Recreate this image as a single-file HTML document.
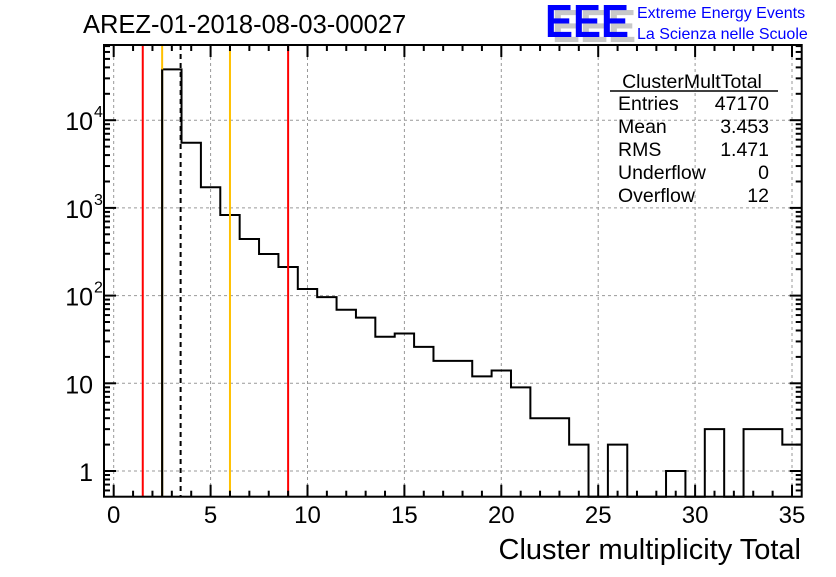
<!DOCTYPE html>
<html><head><meta charset="utf-8"><style>
body{margin:0;background:#fff;}
svg text{font-family:"Liberation Sans",sans-serif;}
</style></head><body>
<svg id="c" width="836" height="572" xmlns="http://www.w3.org/2000/svg">
<rect width="836" height="572" fill="#fff"/>
<text x="83" y="33" font-size="25.5">AREZ-01-2018-08-03-00027</text>
<g>
<text x="552" y="42" font-size="46" font-weight="bold" fill="#c8c8c8" textLength="84" lengthAdjust="spacingAndGlyphs">EEE</text>
<text x="545" y="37" font-size="46" font-weight="bold" fill="#0000ff" textLength="84" lengthAdjust="spacingAndGlyphs">EEE</text>
<text x="637" y="18" font-size="16" fill="#0000ff">Extreme Energy Events</text>
<text x="637" y="39" font-size="16" fill="#0000ff">La Scienza nelle Scuole</text>
</g>
<g id="grid"></g>
<g id="marks"></g>
<g id="axes"></g>
<g font-size="19.5">
<text x="692" y="88" text-anchor="middle">ClusterMultTotal</text>
<line x1="610" y1="91" x2="778" y2="91" stroke="#000" stroke-width="1.5"/>
<text x="618" y="110">Entries</text><text x="769" y="110" text-anchor="end">47170</text>
<text x="618" y="133">Mean</text><text x="769" y="133" text-anchor="end">3.453</text>
<text x="618" y="156">RMS</text><text x="769" y="156" text-anchor="end">1.471</text>
<text x="618" y="179">Underflow</text><text x="769" y="179" text-anchor="end">0</text>
<text x="618" y="202">Overflow</text><text x="769" y="202" text-anchor="end">12</text>
</g>
<text x="801" y="559" font-size="29" text-anchor="end">Cluster multiplicity Total</text>
</svg>
<script>
const binCenters=[3,4,5,6,7,8,9,10,11,12,13,14,15,16,17,18,19,20,21,22,23,24,25,26,27,28,29,30,31,32,33,34,35];
const counts=[38000,5540,1720,830,442,298,212,119,96,69,56,34,37,26,18,18,12,14,9,4,4,2,0,2,0,0,1,0,3,0,3,3,2];
const xTicks=[0,5,10,15,20,25,30,35];
const yDecades=[0,1,2,3,4];
const yTickLabels=["1","10","10","10","10"];
const yTickExp=["","","2","3","4"];
const redLines=[1.5,9];
const yellowLines=[2.5,6];
const meanLine=[3.453];
const L=104,R=801.7,T=45,B=496.7,XMIN=-0.5,XMAX=35.5,Y1=471,DEC=87.7;
const NS='http://www.w3.org/2000/svg';
const X=v=>L+(v-XMIN)/(XMAX-XMIN)*(R-L);
const Y=v=>v<=0?B:Math.max(T,Y1-Math.log10(v)*DEC);
function mk(p,t,a){const e=document.createElementNS(NS,t);for(const k in a)e.setAttribute(k,a[k]);p.appendChild(e);return e;}
const grid=document.getElementById('grid'),marks=document.getElementById('marks'),axes=document.getElementById('axes');
xTicks.forEach(t=>{const g=mk(grid,'line',{x1:X(t),x2:X(t),y1:T,y2:B,stroke:'#999','stroke-dasharray':'3,3','stroke-width':1});

});
yDecades.forEach(d=>{const g=mk(grid,'line',{x1:L,x2:R,y1:Y(Math.pow(10,d)),y2:Y(Math.pow(10,d)),stroke:'#999','stroke-dasharray':'3,3','stroke-width':1});

});
let d='',prev=0;
binCenters.forEach((c,i)=>{const x0=X(c-0.5),x1=X(c+0.5),v=counts[i];
 if(i===0)d+=`M${x0},${B}`;
 d+=`L${x0},${Y(v)}L${x1},${Y(v)}`;prev=v;});
d+=`L${X(binCenters[binCenters.length-1]+0.5)},${Y(prev)}`;
const h=mk(marks,'path',{d:d,fill:'none',stroke:'#000','stroke-width':2});


function vline(v,col,dash,name){const l=mk(marks,'line',{x1:X(v),x2:X(v),y1:T,y2:B,stroke:col,'stroke-width':2});if(dash)l.setAttribute('stroke-dasharray',dash);

}
redLines.forEach(v=>vline(v,'#ff0000',null,'red-cut-line'));
yellowLines.forEach(v=>vline(v,'#ffc000',null,'yellow-cut-line'));
meanLine.forEach(v=>vline(v,'#000',"5,4",'mean-line'));
const h2=mk(marks,'line',{x1:X(binCenters[0]-0.5),x2:X(binCenters[0]-0.5),y1:Y(counts[0]),y2:B,stroke:'#000','stroke-width':2});


const fr=mk(axes,'rect',{x:L,y:T,width:R-L,height:B-T,fill:'none',stroke:'#000','stroke-width':2});


for(let v=0;v<=35;v++){const len=v%5===0?12:6;
 mk(axes,'line',{x1:X(v),x2:X(v),y1:B,y2:B-len,stroke:'#000','stroke-width':2});
 mk(axes,'line',{x1:X(v),x2:X(v),y1:T,y2:T+len,stroke:'#000','stroke-width':2});}
xTicks.forEach(t=>{const tx=mk(axes,'text',{x:X(t),y:523,'font-size':24,'text-anchor':'middle'});tx.textContent=t;

});
for(let dd=-1;dd<=4;dd++){for(let m=1;m<=9;m++){const v=m*Math.pow(10,dd);const y=Y1-Math.log10(v)*DEC;if(y>B||y<T)continue;const len=m===1?12:6;
 mk(axes,'line',{x1:L,x2:L+len,y1:y,y2:y,stroke:'#000','stroke-width':2});
 mk(axes,'line',{x1:R,x2:R-len,y1:y,y2:y,stroke:'#000','stroke-width':2});}}
yDecades.forEach((dd,i)=>{const y=Y(Math.pow(10,dd));const t=mk(axes,'text',{x:93,y:y+10,'font-size':25,'text-anchor':'end'});t.textContent=yTickLabels[i];


if(yTickExp[i]){const s=mk(axes,'text',{x:94,y:y-3,'font-size':16});s.textContent=yTickExp[i];

}});
</script>
</body></html>
